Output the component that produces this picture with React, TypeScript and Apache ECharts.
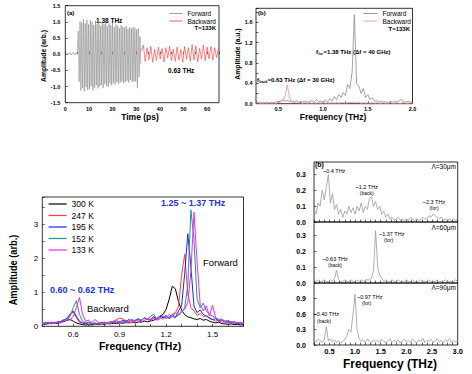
import React, { useEffect, useRef } from "react";
import * as echarts from "echarts";

const FONT = "'Liberation Sans', Arial, sans-serif";

// ---------- Panel (a): time traces ----------
const aPreStart = 0;
const aPreStep = 0.5;
const aPre = [0.02, -0.01, 0.04, 0.0, 0.05, -0.03, 0.03, 0.06, -0.02, 0.04, 0.01];
const aFwdStart = 5.5;
const aFwdStep = 0.3623;
const aFwd = [
  0.72, -0.85, 1.02, -1.12, 0.98, -1.05, 1.08, -1.15, 0.95, -1.02, 1.06, -1.1, 0.92, -1.08, 1.05, -0.98,
  1.0, -1.12, 0.9, -1.04, 1.03, -0.96, 0.94, -1.06, 1.02, -1.0, 0.88, -0.95, 0.98, -1.04, 0.93, -0.92,
  1.0, -0.98, 0.86, -1.0, 0.95, -0.9, 0.9, -0.96, 0.97, -0.88, 0.84, -0.94, 0.92, -0.86, 0.88, -0.92,
  0.8, -0.88, 0.9, -0.84, 0.85, -0.9, 0.82, -0.86, 0.87, -0.82, 0.78, -0.88, 0.84, -0.8, 0.8, -0.86,
  0.83, -0.84, 0.82, -0.85, 0.76, -1.05, 0.8, -0.7, 0.55, -0.3,
];
const aBwdStart = 32.2;
const aBwdStep = 0.794;
const aBwd = [
  0.1, 0.28, -0.22, 0.2, -0.18, 0.24, -0.25, 0.15, -0.2, 0.22, -0.15, 0.18, -0.24, 0.2, -0.12, 0.25, -0.2,
  0.16, -0.22, 0.22, -0.18, 0.14, -0.25, 0.24, -0.16, 0.2, -0.22, 0.3, -0.18, 0.26, -0.24, 0.18, -0.15,
  0.28, -0.2, 0.22, -0.14, 0.24, -0.18, 0.2, -0.1, 0.18,
];

// ---------- Panel (b): spectra at 133 K ----------
const bStart = 0.25;
const bStep = 0.025;
const bFwd = [
  0.03, 0.02, 0.03, 0.02, 0.02, 0.03, 0.02, 0.03, 0.02, 0.04,
  0.03, 0.05, 0.08, 0.05, 0.07, 0.04, 0.05, 0.03, 0.06, 0.03,
  0.04, 0.03, 0.05, 0.03, 0.04, 0.06, 0.03, 0.08, 0.04, 0.05,
  0.03, 0.07, 0.04, 0.1, 0.05, 0.14, 0.08, 0.18, 0.12, 0.22,
  0.16, 0.38, 0.3, 0.62, 1.75, 0.4, 0.35, 0.2, 0.3, 0.12,
  0.18, 0.08, 0.12, 0.05, 0.06, 0.03, 0.05, 0.03, 0.04, 0.02,
  0.04, 0.03, 0.05, 0.03, 0.06, 0.08, 0.04, 0.03, 0.05, 0.03,
  0.02,
];
const bBwd = [
  0.01, 0.02, 0.01, 0.01, 0.02, 0.01, 0.02, 0.01, 0.02, 0.01,
  0.02, 0.03, 0.05, 0.15, 0.37, 0.12, 0.04, 0.02, 0.05, 0.02,
  0.02, 0.01, 0.02, 0.01, 0.02, 0.01, 0.02, 0.01, 0.02, 0.01,
  0.02, 0.01, 0.02, 0.01, 0.02, 0.01, 0.02, 0.01, 0.02, 0.02,
  0.01, 0.02, 0.03, 0.02, 0.04, 0.02, 0.03, 0.01, 0.02, 0.01,
  0.02, 0.01, 0.02, 0.01, 0.02, 0.01, 0.01, 0.02, 0.01, 0.01,
  0.02, 0.01, 0.01, 0.02, 0.01, 0.01, 0.02, 0.01, 0.01, 0.02,
  0.01,
];

// ---------- Panel (c): temperature dependence ----------
const cStart = 0.4;
const cStep = 0.02;
const cNames = ["300 K", "247 K", "195 K", "152 K", "133 K"];
const cColors = ["#000000", "#ff4040", "#2020f0", "#139a8c", "#ff20ff"];
const c300 = [
  0.05, 0.06, 0.08, 0.1, 0.09, 0.08, 0.12, 0.14, 0.18, 0.2,
  0.15, 0.1, 0.07, 0.05, 0.04, 0.05, 0.04, 0.06, 0.05, 0.07,
  0.06, 0.08, 0.07, 0.09, 0.08, 0.1, 0.09, 0.11, 0.1, 0.12,
  0.1, 0.13, 0.12, 0.15, 0.13, 0.16, 0.18, 0.22, 0.3, 0.35,
  0.5, 0.8, 1.18, 1.1, 0.72, 0.48, 0.34, 0.28, 0.25, 0.22,
  0.2, 0.23, 0.18, 0.2, 0.15, 0.12, 0.1, 0.12, 0.08, 0.07,
  0.06, 0.07, 0.05, 0.06, 0.04, 0.05,
];
const c247 = [
  0.06, 0.08, 0.1, 0.07, 0.12, 0.1, 0.14, 0.18, 0.25, 0.35,
  0.42, 0.25, 0.12, 0.08, 0.1, 0.06, 0.08, 0.05, 0.07, 0.09,
  0.08, 0.12, 0.1, 0.15, 0.2, 0.24, 0.22, 0.15, 0.12, 0.1,
  0.15, 0.2, 0.18, 0.25, 0.2, 0.22, 0.28, 0.2, 0.25, 0.3,
  0.22, 0.28, 0.35, 0.4, 0.58, 1.5, 2.12, 0.95, 0.55, 0.45,
  0.32, 0.38, 0.28, 0.32, 0.22, 0.2, 0.15, 0.18, 0.12, 0.14,
  0.1, 0.12, 0.08, 0.1, 0.07, 0.08,
];
const c195 = [
  0.05, 0.1, 0.08, 0.12, 0.09, 0.14, 0.12, 0.18, 0.22, 0.35,
  0.45, 0.3, 0.15, 0.1, 0.08, 0.12, 0.06, 0.09, 0.07, 0.1,
  0.12, 0.08, 0.14, 0.1, 0.16, 0.12, 0.18, 0.14, 0.2, 0.15,
  0.18, 0.22, 0.16, 0.25, 0.2, 0.18, 0.28, 0.22, 0.3, 0.25,
  0.32, 0.22, 0.3, 0.25, 0.45, 0.6, 1.55, 2.72, 1.75, 0.6,
  0.4, 0.48, 0.35, 0.3, 0.25, 0.2, 0.22, 0.15, 0.18, 0.12,
  0.14, 0.1, 0.12, 0.08, 0.1, 0.07,
];
const c152 = [
  0.08, 0.12, 0.1, 0.08, 0.12, 0.1, 0.15, 0.2, 0.18, 0.3,
  0.55, 0.75, 0.35, 0.15, 0.1, 0.12, 0.08, 0.1, 0.06, 0.12,
  0.1, 0.08, 0.12, 0.15, 0.1, 0.14, 0.12, 0.18, 0.15, 0.2,
  0.16, 0.22, 0.18, 0.25, 0.2, 0.3, 0.35, 0.22, 0.28, 0.2,
  0.3, 0.25, 0.35, 0.28, 0.32, 0.4, 0.55, 1.2, 3.42, 2.55,
  0.8, 0.55, 0.68, 0.45, 0.35, 0.3, 0.25, 0.2, 0.22, 0.15,
  0.18, 0.12, 0.14, 0.1, 0.12, 0.08,
];
const c133 = [
  0.06, 0.08, 0.12, 0.1, 0.08, 0.12, 0.1, 0.15, 0.2, 0.18,
  0.3, 0.55, 0.85, 0.35, 0.15, 0.18, 0.1, 0.2, 0.12, 0.08,
  0.12, 0.1, 0.08, 0.12, 0.1, 0.15, 0.12, 0.1, 0.14, 0.18,
  0.15, 0.2, 0.12, 0.18, 0.22, 0.15, 0.25, 0.18, 0.22, 0.3,
  0.25, 0.35, 0.28, 0.4, 0.35, 0.45, 0.5, 0.7, 1.6, 3.35,
  1.9, 0.65, 0.45, 0.6, 0.3, 0.62, 0.25, 0.2, 0.18, 0.15,
  0.12, 0.14, 0.1, 0.12, 0.08, 0.1,
];
const cValues = [c300, c247, c195, c152, c133];

// ---------- Panel (d): grating period dependence ----------
const dStart = 0.2;
const dStep = 0.04;
const d30 = [
  0.08, 0.05, 0.12, 0.1, 0.2, 0.14, 0.22, 0.3, 0.12, 0.18,
  0.08, 0.11, 0.05, 0.08, 0.03, 0.07, 0.05, 0.1, 0.06, 0.09,
  0.05, 0.1, 0.07, 0.12, 0.06, 0.1, 0.08, 0.15, 0.16, 0.1,
  0.13, 0.08, 0.1, 0.05, 0.07, 0.03, 0.05, 0.02, 0.03, 0.01,
  0.02, 0.03, 0.01, 0.02, 0.01, 0.02, 0.01, 0.03, 0.02, 0.01,
  0.02, 0.01, 0.02, 0.03, 0.02, 0.02, 0.04, 0.03, 0.05, 0.04,
  0.03, 0.02, 0.03, 0.01, 0.02, 0.01, 0.02, 0.01, 0.02, 0.01,
  0.02,
];
const d60 = [
  0.01, 0.01, 0.02, 0.01, 0.01, 0.02, 0.01, 0.01, 0.02, 0.01,
  0.03, 0.08, 0.02, 0.01, 0.01, 0.02, 0.01, 0.01, 0.02, 0.01,
  0.01, 0.02, 0.01, 0.02, 0.01, 0.02, 0.02, 0.02, 0.03, 0.08,
  0.33, 0.1, 0.05, 0.03, 0.01, 0.02, 0.01, 0.01, 0.02, 0.01,
  0.01, 0.02, 0.01, 0.01, 0.01, 0.02, 0.01, 0.01, 0.02, 0.01,
  0.01, 0.01, 0.02, 0.01, 0.01, 0.01, 0.02, 0.01, 0.01, 0.01,
  0.02, 0.01, 0.01, 0.01, 0.02, 0.01, 0.01, 0.01, 0.01, 0.02,
  0.01,
];
const d90 = [
  0.1, 0.06, 0.12, 0.08, 0.05, 0.1, 0.35, 0.08, 0.12, 0.06,
  0.1, 0.05, 0.08, 0.04, 0.07, 0.1, 0.18, 0.3, 0.25, 0.6,
  0.98, 0.3, 0.12, 0.08, 0.1, 0.05, 0.12, 0.07, 0.04, 0.1,
  0.06, 0.09, 0.05, 0.11, 0.07, 0.04, 0.08, 0.12, 0.05, 0.09,
  0.06, 0.1, 0.04, 0.08, 0.11, 0.06, 0.09, 0.05, 0.12, 0.07,
  0.04, 0.1, 0.06, 0.13, 0.05, 0.09, 0.07, 0.11, 0.05, 0.08,
  0.12, 0.06, 0.09, 0.04, 0.1, 0.07, 0.12, 0.05, 0.09, 0.06,
  0.08,
];

const xy = (start: number, step: number, vals: number[]) =>
  vals.map((v, i) => [+(start + i * step).toFixed(4), v]);

const isMult = (v: number, s: number) => Math.abs(v / s - Math.round(v / s)) < 1e-6;

function valAxis(
  grid: number, min: number, max: number, interval: number, labelStep: number, dec: number,
  fontSize: number, bold: boolean, margin: number, showLabel = true, showMax = true
) {
  return {
    type: "value", gridIndex: grid, min, max, interval,
    axisLine: { show: false },
    splitLine: { show: false },
    axisTick: { show: true, inside: true, length: 2.5, lineStyle: { color: "#000", width: 0.6 } },
    axisLabel: {
      show: showLabel, fontSize, fontFamily: FONT, fontWeight: bold ? "bold" : "normal", color: "#000", margin,
      showMaxLabel: showMax,
      formatter: (v: number) => (isMult(v, labelStep) ? v.toFixed(dec) : ""),
    },
  };
}

function T(x: number, y: number, text: string, size: number, o: any = {}) {
  const align = o.align || "left";
  const va = o.va || "middle";
  return {
    type: "text", x, y, silent: true,
    rotation: o.rot || 0, scaleX: o.sx || 1, scaleY: 1,
    style: {
      text, fontSize: size, fontFamily: FONT, fontWeight: o.bold ? "bold" : "normal",
      fill: o.color || "#000", align, textAlign: align, verticalAlign: va, textVerticalAlign: va,
    },
  };
}

const grid = (left: number, top: number, width: number, height: number) => ({
  left, top, width, height, show: true, borderColor: "#000", borderWidth: 0.8,
  backgroundColor: "transparent", containLabel: false, outerBoundsMode: "none",
});

export default function App() {
  const ref = useRef<HTMLDivElement>(null);
  useEffect(() => {
    const chart = echarts.init(ref.current!, undefined, { renderer: "svg" });
    const line = (name: string, xi: number, data: any[], color: string, width: number) => ({
      type: "line", name, xAxisIndex: xi, yAxisIndex: xi, data, symbol: "none", showSymbol: false,
      lineStyle: { color, width }, itemStyle: { color }, silent: true, z: 3,
    });
    const series: any[] = [
      line("Forward", 0, [...xy(aPreStart, aPreStep, aPre), ...xy(aFwdStart, aFwdStep, aFwd)], "#8a8a8a", 0.6),
      line("Backward", 0, xy(aBwdStart, aBwdStep, aBwd), "#ff3030", 0.6),
      line("Forward", 1, xy(bStart, bStep, bFwd), "#8a8a8a", 0.8),
      line("Backward", 1, xy(bStart, bStep, bBwd), "#ff9a9a", 0.9),
      ...cNames.map((n, i) => line(n, 2, xy(cStart, cStep, cValues[i]), cColors[i], 1)),
      line("Λ=30μm", 3, xy(dStart, dStep, d30), "#9a9a9a", 0.8),
      line("Λ=60μm", 4, xy(dStart, dStep, d60), "#9a9a9a", 0.8),
      line("Λ=90μm", 5, xy(dStart, dStep, d90), "#9a9a9a", 0.8),
    ];
    const lg = (data: any[], left: number, top: number, iw: number, ih: number, gap: number, fs: number, lw: number) => ({
      data, left, top, orient: "vertical", padding: 0, itemWidth: iw, itemHeight: ih, itemGap: gap,
      selectedMode: false,
      itemStyle: { opacity: 0, color: "transparent", borderWidth: 0 },
      lineStyle: { width: lw },
      textStyle: { fontSize: fs, fontFamily: FONT, color: "#000", padding: 0 },
    });
    const option: any = {
      animation: false,
      backgroundColor: "#fff",
      grid: [
        grid(65.3, 5.7, 153.7, 97),
        grid(256, 8.3, 156.5, 95.4),
        grid(42.3, 197, 201.2, 129.3),
        grid(314, 162, 143.7, 60),
        grid(314, 222, 143.7, 61),
        grid(314, 283, 143.7, 62),
      ],
      xAxis: [
        valAxis(0, 0, 65, 5, 10, 0, 5.5, true, 3),
        valAxis(1, 0.25, 2.0, 0.25, 0.5, 1, 5.5, true, 2.5),
        valAxis(2, 0.4, 1.7, 0.1, 0.3, 1, 8, false, 4),
        valAxis(3, 0.2, 3.0, 0.1, 0.5, 1, 7.5, true, 2, false),
        valAxis(4, 0.2, 3.0, 0.1, 0.5, 1, 7.5, true, 2, false),
        valAxis(5, 0.2, 3.0, 0.1, 0.5, 1, 7.5, true, 2),
      ],
      yAxis: [
        valAxis(0, -1.5, 1.5, 0.5, 0.5, 1, 5.5, true, 5),
        valAxis(1, 0, 1.875, 0.2, 0.4, 1, 5.5, true, 3.5),
        valAxis(2, 0, 3.8, 0.5, 1, 0, 8, false, 4),
        valAxis(3, 0, 0.38, 0.1, 0.1, 1, 7, true, 8, true, false),
        valAxis(4, 0, 0.385, 0.1, 0.1, 1, 7, true, 8, true, false),
        valAxis(5, 0, 1.2, 0.3, 0.3, 1, 7, true, 8, true, false),
      ],
      legend: [
        lg(["Forward", "Backward"], 169, 10, 13, 6, 0.5, 6.5, 0.8),
        lg(["Forward", { name: "Backward", lineStyle: { color: "#ff9a9a" } }], 363, 10, 14, 6, 0.5, 6.5, 0.9),
        lg(cNames, 48, 199.5, 18, 8, 2.5, 8.5, 1.2),
      ],
      series,
      graphic: {
        elements: [
          // panel (a)
          T(67, 13, "(a)", 6, { bold: true }),
          T(96, 20.7, "1.38 THz", 6.5, { bold: true }),
          T(168, 70, "0.63 THz", 6.5, { bold: true }),
          T(216, 28.3, "T=133K", 6, { bold: true, align: "right" }),
          T(43, 56, "Amplitude (arb.)", 8, { bold: true, align: "center", rot: Math.PI / 2, sx: 0.85 }),
          T(140, 117, "Time (ps)", 8.5, { bold: true, align: "center" }),
          // panel (b)
          T(258, 13, "(b)", 6, { bold: true }),
          T(316, 52, "f", 6, { bold: true }),
          T(318.3, 53.8, "for", 3.6, { bold: true }),
          T(323.5, 52, "=1.38 THz (Δf = 40 GHz)", 6, { bold: true }),
          T(257, 80, "f", 6, { bold: true }),
          T(259.3, 81.8, "back", 3.6, { bold: true }),
          T(267.5, 80, "=0.63 THz (Δf = 30 GHz)", 6, { bold: true }),
          T(410, 29, "T=133K", 6, { bold: true, align: "right" }),
          T(237, 54, "Amplitude (a.u.)", 8, { bold: true, align: "center", rot: Math.PI / 2, sx: 0.85 }),
          T(333, 117, "Frequency (THz)", 8.5, { bold: true, align: "center" }),
          // panel (c)
          T(161, 202.7, "1.25 ~ 1.37 THz", 9, { bold: true, color: "#2233ee" }),
          T(203, 262.7, "Forward", 9.5),
          T(50, 290, "0.60 ~ 0.62 THz", 9, { bold: true, color: "#2233ee" }),
          T(87, 308.3, "Backward", 9.5),
          T(13, 270, "Amplitude (arb.)", 10.5, { bold: true, align: "center", rot: Math.PI / 2, sx: 0.88 }),
          T(140, 346, "Frequency (THz)", 10.5, { bold: true, align: "center" }),
          // panel (d)
          T(315, 164, "(b)", 7, { bold: true }),
          T(456, 166, "Λ=30μm", 6.5, { align: "right" }),
          T(323, 170.7, "~0.4 THz", 5.5),
          T(366.7, 187.3, "~1.2 THz", 5.5, { align: "center" }),
          T(366.7, 192.6, "(back)", 5, { align: "center" }),
          T(434, 202.3, "~2.3 THz", 5.5, { align: "center" }),
          T(434, 207.6, "(for)", 5, { align: "center" }),
          T(456, 227, "Λ=60μm", 6.5, { align: "right" }),
          T(379, 234, "~1.37 THz", 5.5),
          T(388.5, 239.6, "(for)", 5, { align: "center" }),
          T(335, 259, "~0.63 THz", 5.5, { align: "center" }),
          T(335, 265, "(back)", 5, { align: "center" }),
          T(456, 287, "Λ=90μm", 6.5, { align: "right" }),
          T(357, 296.7, "~0.97 THz", 5.5),
          T(366.5, 302.7, "(for)", 5, { align: "center" }),
          T(313.5, 314.3, "~0.40 THz", 5.5),
          T(324, 320.7, "(back)", 5, { align: "center" }),
          T(390, 364, "Frequency (THz)", 12, { bold: true, align: "center" }),
        ],
      },
    };
    chart.setOption(option);
    return () => chart.dispose();
  }, []);
  return (
    <div
      ref={ref}
      style={{ position: "absolute", left: 0, top: 0, width: 472, height: 374, background: "#fff" }}
    />
  );
}
